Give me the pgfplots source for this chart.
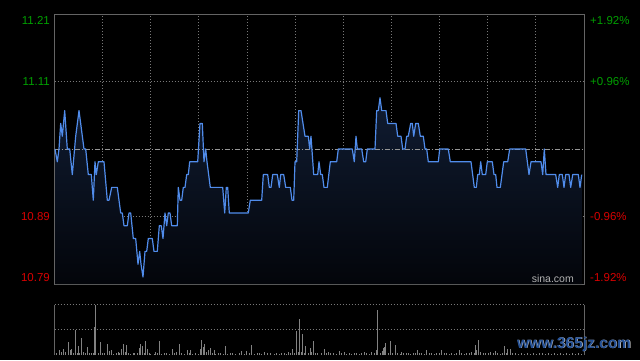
\documentclass[border=0pt]{standalone}
\usepackage{pgfplots}
\pgfplotsset{compat=1.18}
\usepackage{pgfplotstable}
\usepackage{fontspec}
\setmainfont{Liberation Sans}
\definecolor{upc}{RGB}{0,160,0}
\definecolor{dnc}{RGB}{215,0,0}
\definecolor{framec}{RGB}{100,100,100}
\definecolor{gridc}{RGB}{120,120,120}
\definecolor{midc}{RGB}{150,150,150}
\definecolor{linec}{RGB}{80,140,235}
\definecolor{filltop}{RGB}{16,28,50}
\definecolor{fillbot}{RGB}{3,5,10}
\definecolor{volc}{RGB}{130,130,130}
\definecolor{wmc}{RGB}{35,80,150}

\pgfplotstableread{
x p
55 11.00
57.3 10.98
59 11.00
60.7 11.04
62.3 11.02
64.7 11.06
67.3 11.00
69.7 11.00
72.3 10.96
75.7 11.02
79 11.06
84 11.00
85.7 11.00
88.3 10.96
91.3 10.96
93.3 10.92
95 10.98
96.3 10.96
98.3 10.98
104 10.98
107.3 10.92
109 10.92
111.7 10.94
117.3 10.94
120.7 10.90
122.3 10.90
124 10.88
127.3 10.88
129 10.90
130.7 10.90
133.3 10.86
135.7 10.86
138 10.82
139.7 10.84
141 10.82
143 10.80
145 10.84
146.7 10.84
148.3 10.86
152.3 10.86
154 10.84
157.3 10.84
159.3 10.88
161.3 10.88
163 10.86
165 10.90
166.7 10.88
168.3 10.90
170 10.90
171.7 10.88
177.3 10.88
178.3 10.94
180 10.92
181.7 10.92
183.3 10.94
185 10.94
186.7 10.96
188.3 10.96
189.7 10.98
197.7 10.98
200 11.04
202.3 11.04
204 10.98
205.7 11.00
207 10.98
210.3 10.94
222.7 10.94
224.7 10.90
226.3 10.94
227.7 10.94
229.3 10.90
248.3 10.90
250.3 10.92
261.7 10.92
263.3 10.96
267.7 10.96
269.3 10.94
271 10.94
272.7 10.96
277.3 10.96
279.3 10.94
280.7 10.96
283.7 10.96
285.7 10.94
290.3 10.94
292 10.92
293.7 10.92
295 10.98
296.7 10.98
298.7 11.06
301 11.06
305 11.02
308.3 11.02
309.7 11.00
311 11.02
313.7 10.96
317.7 10.96
319 10.98
320.7 10.96
322.3 10.96
324 10.94
327.3 10.94
330.3 10.98
336.7 10.98
338.3 11.00
352.3 11.00
354.3 10.98
356 11.02
357.3 11.00
361.7 11.00
363.7 10.98
365.7 10.98
367.3 11.00
375 11.00
376.7 11.06
378.3 11.06
380 11.08
381.7 11.06
386 11.06
387.7 11.04
396 11.04
397.7 11.02
401 11.02
402.7 11.00
405 11.00
406.7 11.02
408.3 11.02
410.7 11.04
412.3 11.04
413.7 11.02
415.7 11.04
418.3 11.04
420.3 11.02
423.3 11.02
425 11.00
426.7 11.00
428.3 10.98
438.3 10.98
439.7 11.00
448.3 11.00
450.3 10.98
471 10.98
474.3 10.94
476.3 10.94
477.7 10.96
479.3 10.96
480.7 10.98
482.3 10.96
485.7 10.96
487.3 10.98
492.3 10.98
494 10.96
495.7 10.96
497 10.94
500.3 10.94
503.7 10.98
507.7 10.98
509.7 11.00
525.7 11.00
529 10.96
531 10.98
541 10.98
542.7 10.96
544.3 11.00
546 10.96
555.7 10.96
557.7 10.94
559.3 10.96
562.3 10.96
564 10.94
565.7 10.96
569 10.96
570.7 10.94
572.7 10.96
578.3 10.96
580 10.94
581.7 10.96
}\price

\pgfplotstableread{
x v
54.7 51
56.7 4.6
59.3 10
61.3 6.6
63.3 11
65.7 6.6
68.3 25
70.7 10
71.7 11
73.3 3.3
75.3 49.5
77.3 4.6
78.3 18
79.7 4.6
81.3 33
83.3 6.6
85 4.6
87.3 15
89.3 3.3
91.7 4.6
93.7 3.3
94.3 56
95.3 100
98 4.6
100 25
102 3.3
104 3.3
107.3 22
109 8.6
111.3 10
113.3 2
116.3 4.6
118 6.6
119.7 3.3
121.3 11
123.3 22
125 6.6
126.7 20
128.3 3.3
130.7 2
133 3.3
134.7 4.6
137.3 3.3
139.3 14.5
140.7 22
142.3 18
144 3.3
145.7 27.7
147.3 11
149 4.6
150.7 2
154 2
155.7 5.3
157.3 3.3
159.3 27.7
161.3 2
164 4.6
166.7 3.3
169 2
172.3 11
174 3.3
176.7 6.6
179 22
181.3 3.3
184 2
187.3 10
189 3.3
190.7 10
192.7 2
195.7 3.3
198 2
200 11
201.3 30
203 16.5
204.7 22
206.3 6.6
208.3 10
210.7 13
212.3 4.6
214 10
215.7 2
218.3 3.3
220.7 4.6
223.3 2
225.3 18
227.3 2
230 3.3
232.3 3.3
235.7 2
239 4.6
241.7 8.6
244 2
246.3 8.6
249 3.3
251.3 20
254 2
257.3 3.3
259.3 4.6
261.3 2
264.7 6
267.3 3.3
270.7 3.3
274 2
276.7 3.3
279 2
281.7 3.3
284 3.3
286.3 2
288.3 5.3
290.7 3.3
292.3 11
294.7 3.3
296.3 48
298 5.3
299.7 71
301.3 6.6
302.3 41.6
304 3.3
305.7 18.5
308 3.3
310 13
311.3 6.6
313.3 27.7
315.7 4.6
317.3 3.3
321.7 4.6
324.3 12
326.7 4.6
328.3 6.6
330.7 3.3
333.3 3.3
336 2
339.3 8
341.7 3.3
344.3 6.6
346.7 2
349.3 3.3
351.7 2
354.3 3.3
356.7 4.6
359.3 2
361.7 3.3
364.3 6.6
366.7 3.3
369.3 2
371.7 6.6
374.3 3.3
376 10
377.3 89
380 3.3
382 8
383.3 13
384.3 15
385.3 24
388 3.3
390.3 27.7
392.7 3.3
395.3 20
397.3 3.3
400 2
401.7 6.6
403.3 4.6
406 3.3
408.3 3.3
410.7 2
413.3 4.6
415.3 3.3
417.3 10
419.3 3.3
421.7 4.6
424 2
426.7 10
429.3 4.6
431.7 3.3
434.3 2
436.7 4.6
439.3 3.3
441.7 10
444 4.6
446.7 3.3
449.3 2
451.7 3.3
454 2
456.7 3.3
459.3 10
461.7 3.3
464 2
466.7 4.6
469 3.3
471.7 6.6
474 4.6
475.3 20
476.7 10
478.3 30
480.7 6.6
483.3 3.3
485.7 4.6
488.3 3.3
490.7 6.6
493.3 3.3
495.3 8
497.7 3.3
500 2
502.7 4.6
504.3 18
506 3.3
507.3 11
510 11
512.3 4.6
515 3.3
518 2
521 3.3
524 2
527 4.6
530 2
533 3.3
536 2
539 3.3
542 4.6
545 2
548 3.3
551 2
554 3.3
557 2
560 4.6
563 2
566 3.3
569 2
572 3.3
575 2
578 3.3
581 2
}\vol

\begin{document}
\begin{tikzpicture}
\fill[black] (0pt,0pt) rectangle (640pt,-360pt);

% main price panel
\begin{axis}[
  at={(54.5pt,-14pt)}, anchor=north west,
  scale only axis, width=529.5pt, height=270pt,
  xmin=54.5, xmax=584, ymin=10.789, ymax=11.211,
  axis line style={draw=framec, line width=1pt},
  xtick={102.64,150.77,198.91,247.05,295.18,343.32,391.45,439.59,487.73,535.86},
  ytick={10.8944,11.1056},
  xticklabels={}, yticklabels={},
  major tick length=0pt,
  grid=major,
  grid style={draw=gridc, line width=1pt, dash pattern=on 1pt off 2pt},
  clip=true,
]
\addplot[draw=none, top color=filltop, bottom color=fillbot]
  table[x=x, y=p] {\price} -- (axis cs:581.7,10.789) -- (axis cs:55,10.789) -- cycle;
\addplot[draw=midc, line width=1pt, dash pattern=on 5pt off 2pt on 1pt off 2pt]
  coordinates {(54.5,11.00) (584,11.00)};
\addplot[draw=linec, line width=1.2pt, line join=round] table[x=x, y=p] {\price};
\end{axis}

% volume panel
\begin{axis}[
  at={(54.5pt,-304.5pt)}, anchor=north west,
  scale only axis, width=529.5pt, height=50.5pt,
  xmin=54.5, xmax=584, ymin=0, ymax=100,
  axis line style={draw=none},
  xtick=\empty, ytick={50,100}, yticklabels={},
  major tick length=0pt,
  ymajorgrids,
  grid style={draw=gridc, line width=1pt, dash pattern=on 1pt off 2pt},
  clip=false,
]
\addplot[ycomb, draw=volc, line width=1pt, mark=none] table[x=x, y=v] {\vol};
\draw[framec, line width=1pt] (rel axis cs:0,0) -- (rel axis cs:0,1);
\draw[framec, line width=1pt] (rel axis cs:1,0) -- (rel axis cs:1,1);
\end{axis}

% axis labels
\begin{scope}[every node/.style={font=\fontsize{11.5}{12}\selectfont, inner sep=0pt}]
\node[anchor=east, text=upc] at (50pt,-20pt) {11.21};
\node[anchor=east, text=upc] at (50pt,-81.7pt) {11.11};
\node[anchor=east, text=dnc] at (50pt,-216.7pt) {10.89};
\node[anchor=east, text=dnc] at (50pt,-277.7pt) {10.79};
\node[anchor=west, text=upc] at (590pt,-20.5pt) {+1.92\%};
\node[anchor=west, text=upc] at (590pt,-81.7pt) {+0.96\%};
\node[anchor=west, text=dnc] at (590pt,-216.7pt) {-0.96\%};
\node[anchor=west, text=dnc] at (590pt,-277.7pt) {-1.92\%};
\end{scope}
\node[anchor=east, inner sep=0pt, text=gray!60, font=\fontsize{10.5}{11}\selectfont] at (574pt,-279pt) {sina.com};
\node[anchor=center, inner sep=0pt, text=gray!40, font=\bfseries\fontsize{15.5}{16}\selectfont] at (574.6pt,-344.6pt) {www.365jz.com};
\node[anchor=center, inner sep=0pt, text=wmc, font=\bfseries\fontsize{15.5}{16}\selectfont] at (574pt,-344pt) {www.365jz.com};

\pgfresetboundingbox
\useasboundingbox (0pt,0pt) rectangle (640pt,-360pt);
\end{tikzpicture}
\end{document}
